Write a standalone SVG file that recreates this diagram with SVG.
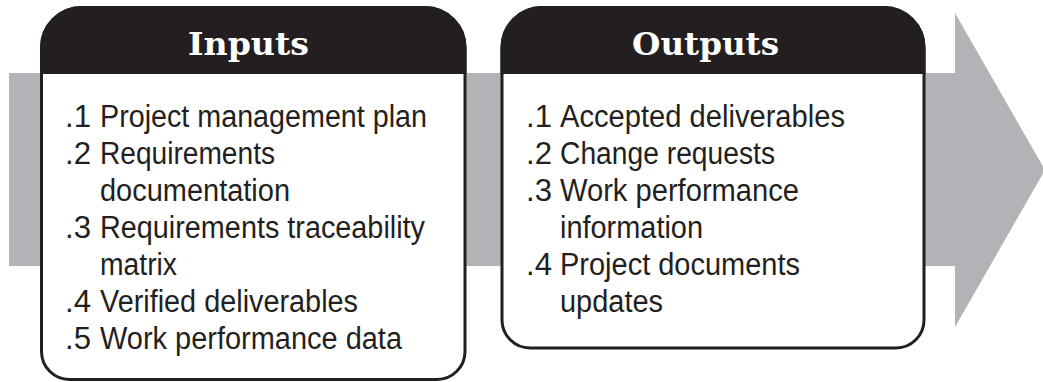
<svg xmlns="http://www.w3.org/2000/svg" width="1043" height="382" viewBox="0 0 1043 382">
<style>
.box{fill:#ffffff;stroke:#231f20;stroke-width:3}
.hdr{fill:#231f20}
.ht{font-family:"DejaVu Serif",serif;font-weight:bold;font-size:32px;fill:#ffffff}
.t{font-family:"Liberation Sans",Arial,sans-serif;font-size:31px;fill:#231f20}
</style>
<rect width="1043" height="382" fill="#ffffff"/>
<g id="connectors">
<polygon id="flow-arrow" points="9,73 955,73 955,13 1045,170 955,327 955,266 9,266" fill="#b2b3b6"/>
</g>
<g id="inputs">
<path class="box" d="M81.5,7.5 H425 A40,40 0 0 1 465,47.5 V351.5 A28,28 0 0 1 437,379.5 H69.5 A28,28 0 0 1 41.5,351.5 V47.5 A40,40 0 0 1 81.5,7.5 Z"/>
<path class="hdr" d="M81.5,6 H425 A41.5,41.5 0 0 1 466.5,47.5 V74 H40 V47.5 A41.5,41.5 0 0 1 81.5,6 Z"/>
<text class="ht" x="188" y="55" textLength="121" lengthAdjust="spacingAndGlyphs">Inputs</text>
<text class="t" x="65" y="127" textLength="26" lengthAdjust="spacingAndGlyphs">.1</text>
<text class="t" x="100" y="127" textLength="327" lengthAdjust="spacingAndGlyphs">Project management plan</text>
<text class="t" x="65" y="164" textLength="26" lengthAdjust="spacingAndGlyphs">.2</text>
<text class="t" x="100" y="164" textLength="175" lengthAdjust="spacingAndGlyphs">Requirements</text>
<text class="t" x="100" y="201" textLength="190" lengthAdjust="spacingAndGlyphs">documentation</text>
<text class="t" x="65" y="238" textLength="26" lengthAdjust="spacingAndGlyphs">.3</text>
<text class="t" x="100" y="238" textLength="325" lengthAdjust="spacingAndGlyphs">Requirements traceability</text>
<text class="t" x="100" y="275" textLength="77" lengthAdjust="spacingAndGlyphs">matrix</text>
<text class="t" x="65" y="312" textLength="26" lengthAdjust="spacingAndGlyphs">.4</text>
<text class="t" x="100" y="312" textLength="258" lengthAdjust="spacingAndGlyphs">Verified deliverables</text>
<text class="t" x="65" y="349" textLength="26" lengthAdjust="spacingAndGlyphs">.5</text>
<text class="t" x="100" y="349" textLength="302" lengthAdjust="spacingAndGlyphs">Work performance data</text>
</g>
<g id="outputs">
<path class="box" d="M542,7.5 H884 A40,40 0 0 1 924,47.5 V320 A28,28 0 0 1 896,348 H530 A28,28 0 0 1 502,320 V47.5 A40,40 0 0 1 542,7.5 Z"/>
<path class="hdr" d="M542,6 H884 A41.5,41.5 0 0 1 925.5,47.5 V74 H500.5 V47.5 A41.5,41.5 0 0 1 542,6 Z"/>
<text class="ht" x="632" y="55" textLength="147" lengthAdjust="spacingAndGlyphs">Outputs</text>
<text class="t" x="526" y="127" textLength="26" lengthAdjust="spacingAndGlyphs">.1</text>
<text class="t" x="560" y="127" textLength="285" lengthAdjust="spacingAndGlyphs">Accepted deliverables</text>
<text class="t" x="526" y="164" textLength="26" lengthAdjust="spacingAndGlyphs">.2</text>
<text class="t" x="560" y="164" textLength="215" lengthAdjust="spacingAndGlyphs">Change requests</text>
<text class="t" x="526" y="201" textLength="26" lengthAdjust="spacingAndGlyphs">.3</text>
<text class="t" x="560" y="201" textLength="239" lengthAdjust="spacingAndGlyphs">Work performance</text>
<text class="t" x="560" y="238" textLength="143" lengthAdjust="spacingAndGlyphs">information</text>
<text class="t" x="526" y="275" textLength="26" lengthAdjust="spacingAndGlyphs">.4</text>
<text class="t" x="560" y="275" textLength="240" lengthAdjust="spacingAndGlyphs">Project documents</text>
<text class="t" x="560" y="312" textLength="103" lengthAdjust="spacingAndGlyphs">updates</text>
</g>
</svg>
